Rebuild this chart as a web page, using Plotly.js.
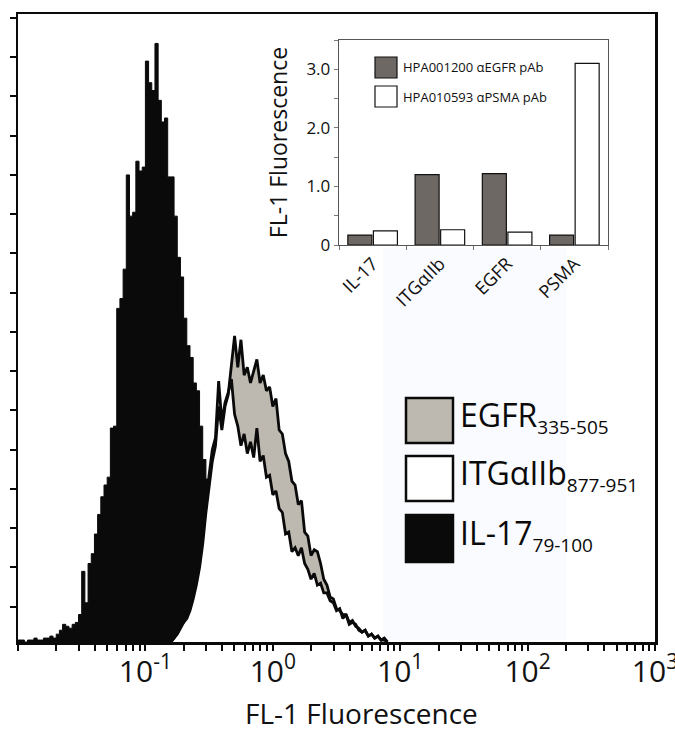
<!DOCTYPE html>
<html>
<head>
<meta charset="utf-8">
<script src="https://cdn.plot.ly/plotly-3.0.1.min.js"></script>
<style>
  html, body { margin: 0; padding: 0; background: #ffffff; }
  #chart { width: 675px; height: 733px; }
</style>
</head>
<body>
<div id="chart"></div>
<script>
// ---------------- DATA ----------------
// Flow-cytometry channels: log10 position of channel k = channelLogStart + channelLogStep * k
const channelLogStart = -2;
const channelLogStep = 0.025;
const il17FirstChannel = 0;
const hpaFirstChannel = 48;

// IL-17 (79-100) histogram counts, channels 0..67
const il17Counts = [1, 1, 0, 1, 1, 2, 1, 1, 2, 2, 3, 2, 4, 6, 9, 8, 7, 9, 10, 14,
  36, 20, 40, 45, 55, 65, 74, 80, 84, 109, 110, 170, 175, 190, 238, 217, 219, 245, 240, 242,
  296, 285, 281, 305, 276, 265, 267, 237, 237, 217, 196, 186, 165, 151, 145, 132, 128, 110, 93, 83,
  62, 45, 30, 18, 10, 5, 2, 0];

// EGFR (335-505) histogram counts, channels 48..116
const egfrCounts = [0, 2, 4, 7, 10, 12, 16, 22, 29, 38, 50, 66, 80, 92, 100, 120, 108, 120, 126, 142,
  156, 140, 154, 136, 140, 132, 138, 144, 132, 136, 128, 130, 120, 124, 108, 106, 96, 92, 82, 80,
  70, 72, 56, 54, 44, 47, 46, 40, 32, 29, 23, 22, 17, 16, 14, 14, 10, 11, 8, 7,
  5, 6, 3, 4, 2, 3, 1, 1, 0];

// ITGalphaIIb (877-951) histogram counts, channels 48..116
const itgCounts = [0, 2, 5, 8, 10, 13, 18, 24, 31, 40, 55, 72, 85, 98, 104, 133, 112, 122, 127, 134,
  116, 110, 100, 106, 96, 102, 94, 109, 92, 95, 84, 85, 75, 77, 68, 66, 55, 56, 46, 48,
  44, 48, 40, 37, 32, 35, 29, 30, 25, 25, 21, 20, 16, 17, 12, 14, 9, 10, 9, 6,
  5, 6, 3, 4, 2, 3, 1, 2, 0];

const histNames = ['EGFR', 'ITGαIIb', 'IL-17'];
const histSubs = ['335-505', '877-951', '79-100'];

const xTickVals = [0.1, 1, 10, 100, 1000];
const xTickText = ['10<sup>-1</sup>', '10<sup>0</sup>', '10<sup>1</sup>', '10<sup>2</sup>', '10<sup>3</sup>'];
const xTitle = 'FL-1 Fluorescence';

// Inset bar chart
const insetCategories = ['IL-17', 'ITGαIIb', 'EGFR', 'PSMA'];
const egfrAbValues = [0.17, 1.20, 1.22, 0.17];
const psmaAbValues = [0.24, 0.26, 0.22, 3.10];
const insetSeriesNames = ['HPA001200 αEGFR pAb', 'HPA010593 αPSMA pAb'];
const insetTickVals = [0, 1, 2, 3];
const insetTickText = ['0', '1.0', '2.0', '3.0'];
const insetTitle = 'FL-1 Fluorescence';

// ---------------- STYLE / LAYOUT ----------------
const FONT = 'Open Sans, Noto Sans, sans-serif';
const egfrGray = '#bdb8b0';
const barGray = '#6e6864';
const ink = '#0a0a0a';

function channelX(first, n) {
  return Array.from({length: n}, (_, k) => Math.pow(10, channelLogStart + channelLogStep * (first + k)));
}

// plot area in pixels: x 18..655, y 14..642
const L = 18, R = 655, T = 14, B = 642;
const PX = p => (p - L) / (R - L);
const PY = p => (B - p) / (B - T);

const il17X = channelX(il17FirstChannel, il17Counts.length);
const hpaX = channelX(hpaFirstChannel, egfrCounts.length);

const traces = [
  {x: il17X, y: il17Counts, type: 'scatter', mode: 'lines', line: {shape: 'hv', color: ink, width: 1},
   fill: 'tozeroy', fillcolor: ink, name: histNames[2], hoverinfo: 'skip'},
  {x: hpaX, y: egfrCounts, type: 'scatter', mode: 'lines', line: {color: 'rgba(0,0,0,0)', width: 0},
   fill: 'tozeroy', fillcolor: egfrGray, name: histNames[0], hoverinfo: 'skip'},
  {x: hpaX, y: itgCounts, type: 'scatter', mode: 'lines', line: {color: 'rgba(0,0,0,0)', width: 0},
   fill: 'tozeroy', fillcolor: '#ffffff', name: histNames[1], hoverinfo: 'skip'},
  {x: hpaX, y: egfrCounts, type: 'scatter', mode: 'lines', line: {color: ink, width: 2.8},
   name: histNames[0], hoverinfo: 'skip'},
  {x: hpaX, y: itgCounts, type: 'scatter', mode: 'lines', line: {color: ink, width: 2.8},
   name: histNames[1], hoverinfo: 'skip'},
  {x: insetCategories, y: egfrAbValues, type: 'bar', xaxis: 'x2', yaxis: 'y2', name: insetSeriesNames[0],
   marker: {color: barGray, line: {color: '#111', width: 1.2}}},
  {x: insetCategories, y: psmaAbValues, type: 'bar', xaxis: 'x2', yaxis: 'y2', name: insetSeriesNames[1],
   marker: {color: '#ffffff', line: {color: '#111', width: 1.2}}}
];

// faint tinted panel behind the legend (scan tint in the original)
const shapes = [
  {type: 'rect', xref: 'paper', yref: 'paper', layer: 'below', x0: PX(383), x1: PX(566), y0: PY(640), y1: PY(248),
   fillcolor: '#fafbfe', line: {width: 0}}
];
const annotations = [];

// main legend
const mainLegendBoxes = [[398, 443, egfrGray], [456, 501, '#ffffff'], [515, 562, ink]];
mainLegendBoxes.forEach((b, i) => {
  shapes.push({type: 'rect', xref: 'paper', yref: 'paper', x0: PX(406), x1: PX(453), y0: PY(b[1]), y1: PY(b[0]),
    fillcolor: b[2], line: {color: ink, width: 2.5}});
  annotations.push({xref: 'paper', yref: 'paper', x: PX(458), y: PY((b[0] + b[1]) / 2 - 4), xanchor: 'left', yanchor: 'middle',
    showarrow: false, text: histNames[i] + '<sub><span style="font-size:19px">' + histSubs[i] + '</span></sub>',
    font: {family: FONT, size: 32, color: ink}});
});

// inset legend
const insetLegendBoxes = [[57, 78, barGray], [86, 107, '#ffffff']];
insetLegendBoxes.forEach((b, i) => {
  shapes.push({type: 'rect', xref: 'paper', yref: 'paper', x0: PX(375), x1: PX(397), y0: PY(b[1]), y1: PY(b[0]),
    fillcolor: b[2], line: {color: '#111', width: 1.2}});
  annotations.push({xref: 'paper', yref: 'paper', x: PX(401), y: PY((b[0] + b[1]) / 2), xanchor: 'left', yanchor: 'middle',
    showarrow: false, text: insetSeriesNames[i], font: {family: FONT, size: 13, color: '#111'}});
});

// main x title
annotations.push({xref: 'paper', yref: 'paper', x: PX(361), y: PY(733), xanchor: 'center', yanchor: 'bottom',
  borderpad: 0, showarrow: false, text: xTitle, font: {family: FONT, size: 28, color: '#111'}});

const layout = {
  width: 675, height: 733,
  margin: {l: L, r: 675 - R, t: T, b: 733 - B, pad: 0},
  paper_bgcolor: '#ffffff', plot_bgcolor: '#ffffff',
  showlegend: false,
  font: {family: FONT, color: '#111'},
  barmode: 'group', bargap: 0.24, bargroupgap: 0.06,
  xaxis: {
    type: 'log', range: [-2, 3], showgrid: false, zeroline: false,
    showline: true, linewidth: 2.5, linecolor: ink, mirror: true,
    ticks: 'outside', ticklen: 6, tickwidth: 2, tickcolor: ink,
    tickmode: 'array', tickvals: xTickVals, ticktext: xTickText,
    tickfont: {family: FONT, size: 30, color: '#111'}, ticklabelstandoff: -5, ticklabeloverflow: 'allow',
    minor: {ticks: 'outside', ticklen: 6, tickwidth: 2, tickcolor: ink, dtick: 'D1', showgrid: false}
  },
  yaxis: {
    range: [0, 320], showgrid: false, zeroline: false,
    showline: true, linewidth: 2.5, linecolor: ink, mirror: true,
    ticks: 'outside', tick0: 18, dtick: 20, ticklen: 6, tickwidth: 2, tickcolor: ink,
    showticklabels: false
  },
  xaxis2: {
    domain: [PX(339), PX(608)], anchor: 'y2', type: 'category',
    showline: true, linecolor: '#555', linewidth: 1.3, mirror: true, showgrid: false, zeroline: false,
    ticks: 'outside', tickson: 'boundaries', ticklen: 4, tickcolor: '#777',
    tickangle: -45, tickfont: {family: FONT, size: 18, color: '#111'}
  },
  yaxis2: {
    domain: [PY(245), PY(40)], anchor: 'x2', range: [0, 3.5],
    showline: true, linecolor: '#555', linewidth: 1.3, mirror: true, showgrid: false, zeroline: false,
    ticks: 'outside', ticklen: 4, tickcolor: '#777', tickmode: 'array', tickvals: insetTickVals, ticktext: insetTickText,
    minor: {ticks: 'outside', ticklen: 4, tickcolor: '#777', dtick: 0.5, tick0: 0, showgrid: false},
    tickfont: {family: FONT, size: 17, color: '#111'},
    title: {text: insetTitle, font: {family: FONT, size: 23, color: '#111'}, standoff: 12}
  },
  shapes: shapes,
  annotations: annotations
};

Plotly.newPlot('chart', traces, layout, {staticPlot: true, displayModeBar: false});
</script>
</body>
</html>
